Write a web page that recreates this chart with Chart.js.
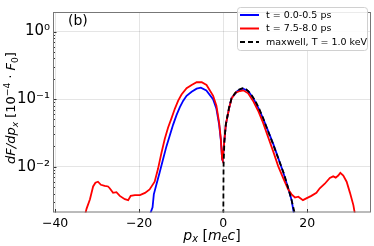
<!DOCTYPE html>
<html>
<head>
<meta charset="utf-8">
<script src="https://cdn.jsdelivr.net/npm/chart.js@4.4.0/dist/chart.umd.min.js"></script>
<style>
html,body{margin:0;padding:0;background:#fff;}
#wrap{width:374px;height:246px;}
</style>
</head>
<body>
<div id="wrap"><canvas id="myChart"></canvas></div>
<script>
'use strict';

// series (p_x in m_e c, dF/dp_x in 1e-4 F0)
const blueX=[-17.8,-16.8,-16.5,-15.9,-15.1,-14.3,-13.5,-12.7,-11.9,-11.1,-10.3,-9.5,-8.7,-7.5,-6.3,-5.3,-4.0,-2.4,-1.6,-0.95,-0.55,-0.24,-0.1,0.17,0.64,1.4,2.0,2.8,3.4,4.0,4.76,5.95,7.1,8.3,9.5,10.7,11.9,13.1,14.3,15.5,16.3,16.8,17.3];
const blueY=[0.0017,0.0025,0.0039,0.0054,0.0083,0.0129,0.020,0.029,0.042,0.058,0.076,0.095,0.112,0.129,0.143,0.148,0.135,0.100,0.072,0.042,0.025,0.0129,0.0123,0.020,0.042,0.072,0.104,0.118,0.132,0.139,0.143,0.132,0.105,0.076,0.052,0.034,0.022,0.0135,0.0083,0.0048,0.0032,0.0021,0.0016];

const redX=[-33.0,-32.5,-31.7,-30.95,-30.4,-29.8,-29.1,-28.2,-27.4,-27.0,-26.2,-25.4,-24.6,-23.4,-22.6,-22.0,-21.0,-19.8,-18.6,-17.5,-16.3,-15.5,-14.7,-13.9,-13.1,-12.3,-11.5,-10.7,-9.9,-8.7,-7.5,-6.3,-5.1,-3.95,-2.38,-1.6,-0.95,-0.55,-0.24,-0.1,0.17,0.64,1.4,2.0,3.0,4.0,4.8,5.95,7.1,8.3,9.5,10.7,11.9,13.1,14.3,15.5,16.3,17.1,17.9,19.0,19.8,21.0,22.2,23.0,24.2,25.4,26.2,26.8,27.4,27.9,28.6,29.4,30.2,31.0,31.5];
const redY=[0.0018,0.0024,0.0033,0.0051,0.0058,0.0060,0.0054,0.0052,0.0051,0.0048,0.0041,0.0042,0.0037,0.0033,0.0032,0.0037,0.0038,0.0038,0.0041,0.0046,0.0060,0.0093,0.0158,0.0257,0.038,0.052,0.072,0.095,0.117,0.145,0.162,0.178,0.178,0.162,0.112,0.080,0.045,0.026,0.013,0.0123,0.020,0.042,0.072,0.102,0.125,0.132,0.135,0.122,0.095,0.068,0.045,0.0275,0.017,0.0102,0.0068,0.0046,0.0039,0.0035,0.0036,0.0032,0.0034,0.0037,0.0041,0.0048,0.0056,0.0068,0.0072,0.0069,0.0074,0.0081,0.0074,0.0060,0.0041,0.0027,0.0018];

const maxwellX=[0,0.1,0.3,0.64,1.4,2.0,2.8,3.6,4.6,5.5,6.5,7.5,8.5,9.5,10.5,11.5,12.5,13.5,14.5,15.5,16.3,17.0,17.5];
const maxwellY=[0.0005,0.010,0.024,0.042,0.075,0.102,0.122,0.137,0.145,0.140,0.122,0.098,0.074,0.053,0.036,0.025,0.017,0.0115,0.0078,0.0048,0.0032,0.0021,0.0015];

const seriesLabels=['t = 0.0-0.5 ps','t = 7.5-8.0 ps','maxwell, T = 1.0 keV'];
const xTicks=[-40,-20,0,20];
const yTicks=[0.01,0.1,1];
const yTickLabels=['10\u207B\u00B2','10\u207B\u00B9','10\u2070'];

const FONT='"DejaVu Sans", sans-serif';

function toPoints(xs,ys){
  return xs.map((v,i)=>({x:v,y:ys[i]}));
}

// draw text made of plain / italic / sub / sup pieces, centred on (cx,cy)
function drawRich(ctx,parts,cx,cy,size){
  const fontOf=p=>(p.it?'italic ':'')+(p.off? size*0.7 : size)+'px '+FONT;
  let total=0;
  parts.forEach(p=>{ctx.font=fontOf(p);p.w=ctx.measureText(p.t).width;total+=p.w;});
  let x=cx-total/2;
  ctx.textAlign='left';
  ctx.textBaseline='middle';
  parts.forEach(p=>{
    ctx.font=fontOf(p);
    let dy=0;
    if(p.off===1) dy=-size*0.35;
    if(p.off===-1) dy=size*0.28;
    ctx.fillText(p.t,x,cy+dy);
    x+=p.w;
  });
}

const decorate={
  id:'decorate',
  afterDraw(chart){
    const ctx=chart.ctx;
    const a=chart.chartArea;
    const xs=chart.scales.x, ys=chart.scales.y;
    ctx.save();

    // inward tick marks
    ctx.strokeStyle='#333';
    ctx.lineWidth=1;
    ctx.beginPath();
    xTicks.forEach(v=>{
      const px=Math.round(xs.getPixelForValue(v))+0.5;
      ctx.moveTo(px,a.bottom);ctx.lineTo(px,a.bottom-3.5);
    });
    for(let d=-3;d<=0;d++){
      for(let k=1;k<=9;k++){
        const v=k*Math.pow(10,d);
        if(v<ys.min||v>ys.max) continue;
        const py=Math.round(ys.getPixelForValue(v))+0.5;
        const len=k===1?3.5:2;
        ctx.moveTo(a.left,py);ctx.lineTo(a.left+len,py);
      }
    }
    ctx.stroke();

    // frame
    ctx.strokeStyle='#777';
    ctx.lineWidth=1;
    ctx.strokeRect(a.left+0.5,a.top+0.5,a.right-a.left-1,a.bottom-a.top-1);

    // panel tag
    ctx.fillStyle='#000';
    ctx.font='14px '+FONT;
    ctx.textAlign='left';
    ctx.textBaseline='middle';
    ctx.fillText('(b)',68,21);

    // axis titles
    drawRich(ctx,[{t:'p',it:true},{t:'x',it:true,off:-1},{t:' [',it:false},{t:'m',it:true},{t:'e',it:true,off:-1},{t:'c',it:true},{t:']',it:false}],212,236,14);
    ctx.save();
    ctx.translate(12,108);
    ctx.rotate(-Math.PI/2);
    drawRich(ctx,[{t:'dF/dp',it:true},{t:'x',it:true,off:-1},{t:' [10',it:false},{t:'\u22124',it:false,off:1},{t:' \u00B7 ',it:false},{t:'F',it:true},{t:'0',it:false,off:-1},{t:']',it:false}],0,0,13);
    ctx.restore();

    // legend
    const lx=237, ly=7, lw=130, lh=43;
    ctx.beginPath();
    ctx.roundRect(lx+0.5,ly+0.5,lw,lh,3);
    ctx.fillStyle='rgba(255,255,255,0.85)';
    ctx.fill();
    ctx.strokeStyle='#d0d0d0';
    ctx.stroke();
    const rows=[15,28.5,42];
    chart.data.datasets.forEach((ds,i)=>{
      ctx.beginPath();
      ctx.strokeStyle=ds.borderColor;
      ctx.lineWidth=2;
      ctx.setLineDash(ds.borderDash||[]);
      ctx.moveTo(240,rows[i]);ctx.lineTo(259,rows[i]);
      ctx.stroke();
      ctx.setLineDash([]);
      ctx.fillStyle='#000';
      ctx.font='9.5px '+FONT;
      ctx.textAlign='left';
      ctx.textBaseline='middle';
      ctx.fillText(ds.label,266,rows[i]+0.5);
    });
    ctx.restore();
  }
};

const ctx=document.getElementById('myChart').getContext('2d');
const chart=new Chart(ctx,{
  type:'line',
  data:{
    datasets:[
      {label:seriesLabels[0],data:toPoints(blueX,blueY),borderColor:'#0000ff',borderWidth:1.8,order:3},
      {label:seriesLabels[1],data:toPoints(redX,redY),borderColor:'#ff0000',borderWidth:1.8,order:2},
      {label:seriesLabels[2],data:toPoints(maxwellX,maxwellY),borderColor:'#000000',borderWidth:1.8,borderDash:[5,3],order:1}
    ]
  },
  options:{
    responsive:true,
    maintainAspectRatio:false,
    animation:false,
    parsing:true,
    elements:{point:{radius:0},line:{tension:0,fill:false}},
    datasets:{line:{clip:0}},
    layout:{padding:{left:0,right:3,top:2,bottom:0}},
    plugins:{legend:{display:false},tooltip:{enabled:false}},
    scales:{
      x:{
        type:'linear',
        min:-40.5,
        max:35.2,
        afterBuildTicks:s=>{s.ticks=xTicks.map(v=>({value:v}));},
        afterFit:s=>{s.height=33.5;},
        border:{display:false},
        grid:{color:'rgba(0,0,0,0.13)',borderDash:[1.5,2],drawTicks:false,lineWidth:0.8},
        ticks:{
          padding:4,
          color:'#000',
          font:{family:'DejaVu Sans',size:12.5},
          maxRotation:0,
          callback:v=>v<0?'\u2212'+Math.abs(v):String(v)
        }
      },
      y:{
        type:'logarithmic',
        min:0.0021,
        max:1.95,
        afterBuildTicks:s=>{s.ticks=yTicks.map(v=>({value:v}));},
        afterFit:s=>{s.width=53;},
        border:{display:false},
        grid:{color:'rgba(0,0,0,0.13)',borderDash:[1.5,2],drawTicks:false,lineWidth:0.8},
        ticks:{
          padding:3,
          color:'#000',
          font:{family:'DejaVu Sans',size:15},
          callback:v=>{
            const i=yTicks.indexOf(v);
            return i>=0?yTickLabels[i]:'';
          }
        }
      }
    }
  },
  plugins:[decorate]
});
</script>
</body>
</html>
